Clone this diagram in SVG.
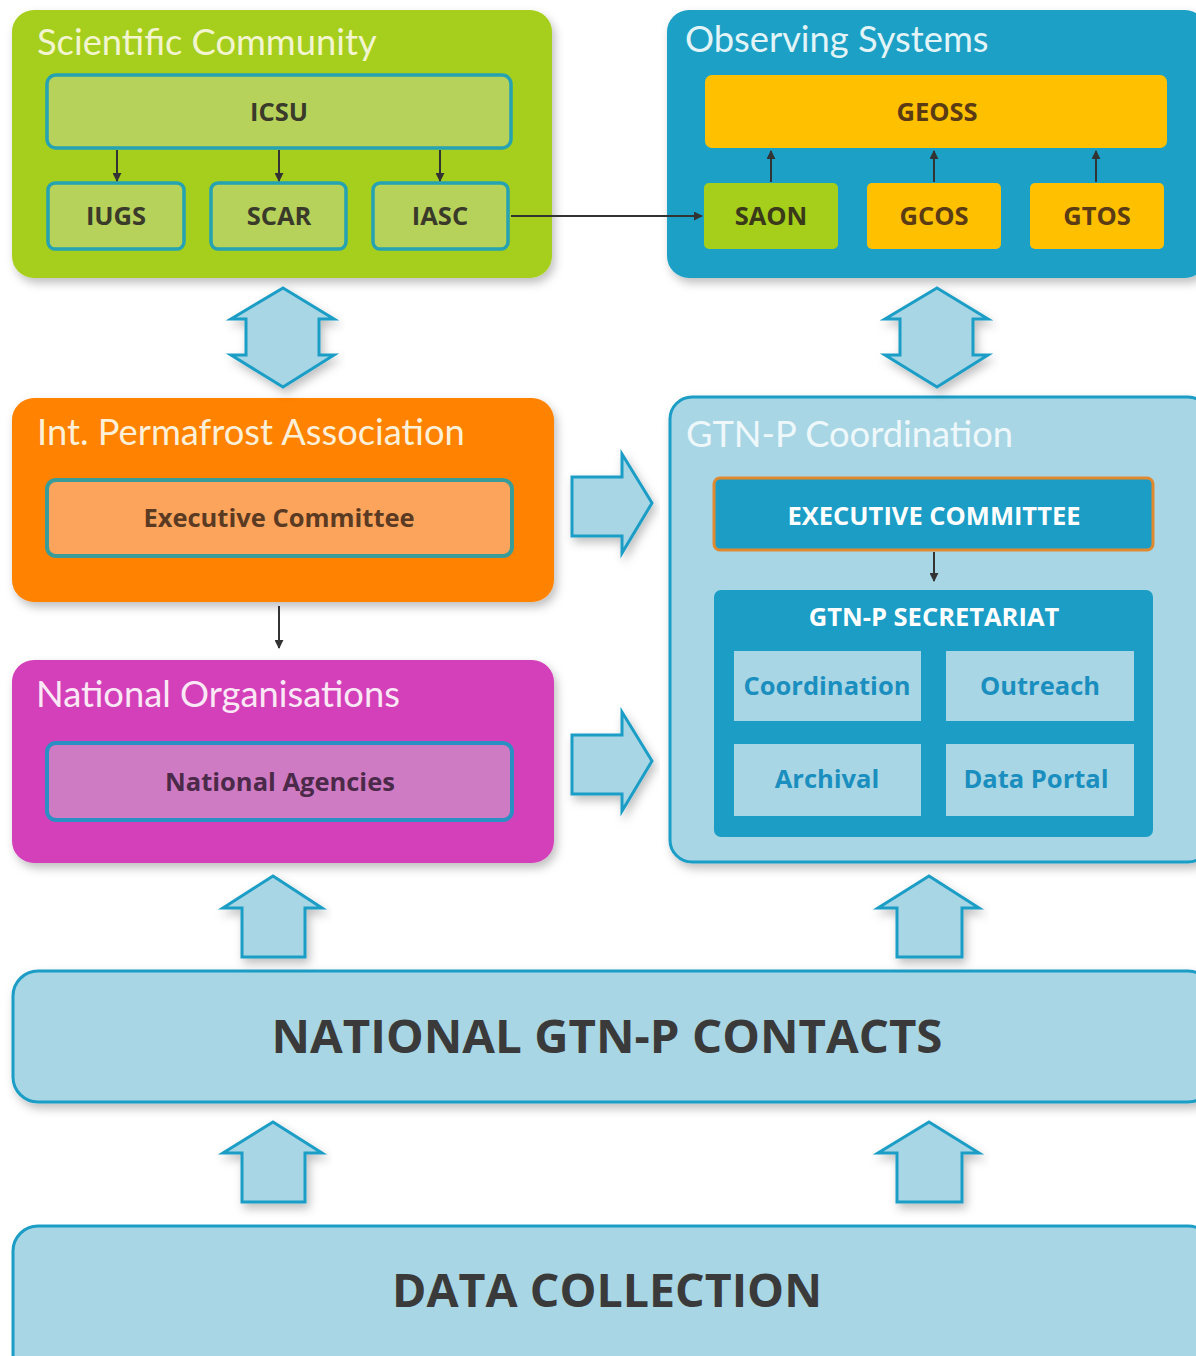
<svg xmlns="http://www.w3.org/2000/svg" width="1196" height="1356" viewBox="0 0 1196 1356">
<defs>
<filter id="sh" x="-10%" y="-10%" width="120%" height="130%">
<feDropShadow dx="3" dy="5" stdDeviation="5" flood-color="#000" flood-opacity="0.25"/>
</filter>
<marker id="ah" viewBox="0 0 10 10" refX="9" refY="5" markerWidth="4.5" markerHeight="4.5" orient="auto">
<path d="M0,0 L10,5 L0,10 z" fill="#333"/>
</marker>
</defs>
<style>
.title{font-family:Lato,"Open Sans",sans-serif;font-size:36.3px}
.lbl{font-family:"Open Sans",Lato,sans-serif;font-weight:bold;font-size:25.5px;text-anchor:middle}
.big{font-family:"Open Sans",Lato,sans-serif;font-weight:bold;font-size:46px;text-anchor:middle;fill:#3a3a3a}
.conn{stroke:#333;stroke-width:2;fill:none;marker-end:url(#ah)}
.blk{fill:#a8d6e4;stroke:#1b9dc6;stroke-width:3;stroke-linejoin:miter;filter:url(#sh)}
.lb{fill:#a8d6e4;stroke:#1b9dc6;stroke-width:3}
</style>
<rect width="1196" height="1356" fill="#fff"/>

<g id="scientific-community">
<rect x="12" y="10" width="540" height="268" rx="22" fill="#a5cf1a" filter="url(#sh)"/>
<text class="title" x="37" y="55" fill="#f2f5cf">Scientific Community</text>
<g id="icsu"><rect x="47" y="75" width="464" height="73" rx="9" fill="#b6d25b" stroke="#25a3b2" stroke-width="3.5"/>
<text class="lbl" x="279" y="121" fill="#3a3a2a">ICSU</text></g>
<g id="iugs"><rect x="48" y="183" width="136" height="66" rx="7" fill="#b6d25b" stroke="#25a3b2" stroke-width="3.5"/>
<text class="lbl" x="116" y="225" fill="#3a3a2a">IUGS</text></g>
<g id="scar"><rect x="211" y="183" width="135" height="66" rx="7" fill="#b6d25b" stroke="#25a3b2" stroke-width="3.5"/>
<text class="lbl" x="279" y="225" fill="#3a3a2a">SCAR</text></g>
<g id="iasc"><rect x="373" y="183" width="135" height="66" rx="7" fill="#b6d25b" stroke="#25a3b2" stroke-width="3.5"/>
<text class="lbl" x="440" y="225" fill="#3a3a2a">IASC</text></g>
</g>

<g id="observing-systems">
<rect x="667" y="10" width="540" height="268" rx="22" fill="#1ca0c5" filter="url(#sh)"/>
<text class="title" x="685" y="52" fill="#e2f4f8">Observing Systems</text>
<g id="geoss"><rect x="705" y="75" width="462" height="73" rx="7" fill="#ffc000"/>
<text class="lbl" x="937" y="121" fill="#5a3b14">GEOSS</text></g>
<g id="saon"><rect x="704" y="183" width="134" height="66" rx="5" fill="#a5cf1a"/>
<text class="lbl" x="771" y="225" fill="#3a3a1a">SAON</text></g>
<g id="gcos"><rect x="867" y="183" width="134" height="66" rx="5" fill="#ffc000"/>
<text class="lbl" x="934" y="225" fill="#5a3b14">GCOS</text></g>
<g id="gtos"><rect x="1030" y="183" width="134" height="66" rx="5" fill="#ffc000"/>
<text class="lbl" x="1097" y="225" fill="#5a3b14">GTOS</text></g>
</g>

<g id="ipa">
<rect x="12" y="398" width="542" height="204" rx="22" fill="#ff8200" filter="url(#sh)"/>
<text class="title" x="37" y="445" fill="#fdf0d8">Int. Permafrost Association</text>
<g id="ipa-exec"><rect x="47" y="480" width="465" height="76" rx="9" fill="#fda45c" stroke="#3a9c98" stroke-width="4"/>
<text class="lbl" x="279" y="527" fill="#5a3a22">Executive Committee</text></g>
</g>

<g id="national-organisations">
<rect x="12" y="660" width="542" height="203" rx="22" fill="#d43fb9" filter="url(#sh)"/>
<text class="title" x="36" y="707" fill="#fbe8f6">National Organisations</text>
<g id="national-agencies"><rect x="47" y="743" width="465" height="77" rx="9" fill="#cf7bc3" stroke="#2a8fc2" stroke-width="4"/>
<text class="lbl" x="280" y="791" fill="#4a2a48">National Agencies</text></g>
</g>

<g id="gtnp-coordination">
<rect x="670" y="397" width="540" height="465" rx="22" fill="#a8d6e4" stroke="#1b9dc6" stroke-width="3" filter="url(#sh)"/>
<text class="title" x="686" y="447" fill="#eef8fb">GTN-P Coordination</text>
<g id="gtnp-exec"><rect x="714" y="478" width="439" height="72" rx="6" fill="#1b9dc6" stroke="#e08a30" stroke-width="3"/>
<text class="lbl" x="934" y="525" fill="#ffffff">EXECUTIVE COMMITTEE</text></g>
<g id="gtnp-secretariat"><rect x="714" y="590" width="439" height="247" rx="7" fill="#1b9dc6"/>
<text class="lbl" x="934" y="626" fill="#ffffff">GTN-P SECRETARIAT</text>
<g id="coordination"><rect x="734" y="651" width="187" height="70" fill="#a8d6e4"/>
<text class="lbl" x="827" y="695" fill="#1a8fbf">Coordination</text></g>
<g id="outreach"><rect x="946" y="651" width="188" height="70" fill="#a8d6e4"/>
<text class="lbl" x="1040" y="695" fill="#1a8fbf">Outreach</text></g>
<g id="archival"><rect x="734" y="744" width="187" height="72" fill="#a8d6e4"/>
<text class="lbl" x="827" y="788" fill="#1a8fbf">Archival</text></g>
<g id="data-portal"><rect x="946" y="744" width="188" height="72" fill="#a8d6e4"/>
<text class="lbl" x="1036" y="788" fill="#1a8fbf">Data Portal</text></g>
</g>
</g>

<g id="national-contacts">
<rect x="13" y="971" width="1200" height="131" rx="25" class="lb" filter="url(#sh)"/>
<text class="big" x="607" y="1053" textLength="671" lengthAdjust="spacingAndGlyphs">NATIONAL GTN-P CONTACTS</text>
</g>

<g id="data-collection">
<rect x="13" y="1226" width="1200" height="160" rx="25" class="lb"/>
<text class="big" x="607" y="1307" textLength="430" lengthAdjust="spacingAndGlyphs">DATA COLLECTION</text>
</g>

<g id="connectors">
<line class="conn" x1="117" y1="150" x2="117" y2="181"/>
<line class="conn" x1="279" y1="150" x2="279" y2="181"/>
<line class="conn" x1="440" y1="150" x2="440" y2="181"/>
<line class="conn" x1="771" y1="182" x2="771" y2="151"/>
<line class="conn" x1="934" y1="182" x2="934" y2="151"/>
<line class="conn" x1="1096" y1="182" x2="1096" y2="151"/>
<line class="conn" x1="511" y1="216" x2="702" y2="216"/>
<line class="conn" x1="279" y1="606" x2="279" y2="648"/>
<line class="conn" x1="934" y1="552" x2="934" y2="581"/>
<polygon class="blk" points="283,288 334,319 319,319 319,355 334,355 283,387 231,355 246,355 246,319 231,319"/>
<polygon class="blk" points="937,288 988,319 973,319 973,355 988,355 937,387 885,355 900,355 900,319 885,319"/>
<polygon class="blk" points="572,477 622,477 622,454 652,503 622,553 622,536 572,536"/>
<polygon class="blk" points="572,735 622,735 622,712 652,761 622,811 622,794 572,794"/>
<polygon class="blk" points="273,876 322,908 305,908 305,957 242,957 242,908 223,908"/>
<polygon class="blk" points="929,876 979,908 962,908 962,957 897,957 897,908 878,908"/>
<polygon class="blk" points="273,1122 322,1153 305,1153 305,1202 242,1202 242,1153 223,1153"/>
<polygon class="blk" points="929,1122 979,1153 962,1153 962,1202 897,1202 897,1153 878,1153"/>
</g>
</svg>
